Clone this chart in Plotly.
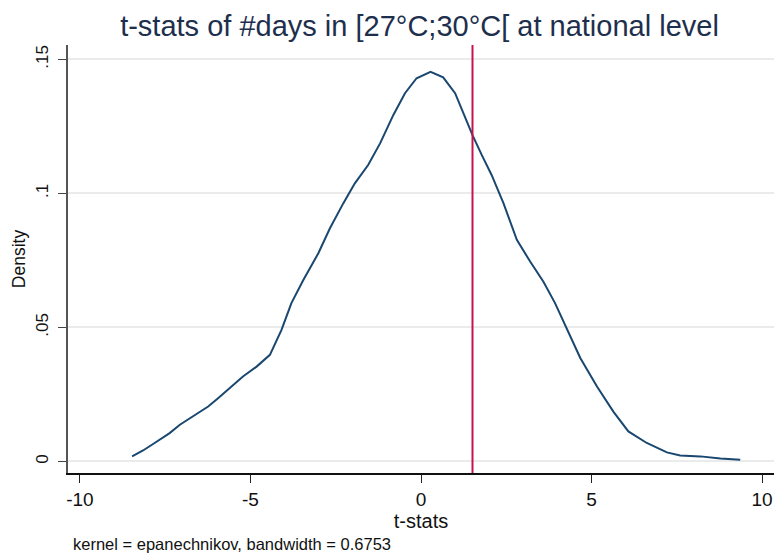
import plotly.graph_objects as go

# Kernel density estimate of the t-statistics (Epanechnikov kernel, bw = 0.6753)
t_stats = [-8.47, -8.15, -7.81, -7.37, -7.07, -6.63, -6.24, -5.95, -5.56, -5.22,
           -4.82, -4.43, -4.09, -3.80, -3.45, -3.01, -2.67, -2.28, -1.94, -1.55,
           -1.20, -0.81, -0.47, -0.13, 0.28, 0.65, 1.00, 1.24, 1.51, 1.78,
           2.07, 2.42, 2.81, 3.20, 3.59, 3.93, 4.28, 4.67, 5.16, 5.64,
           6.08, 6.62, 7.21, 7.60, 8.19, 8.78, 9.36]
density = [0.0019, 0.0041, 0.0069, 0.0106, 0.0137, 0.0174, 0.0205, 0.0236, 0.0280, 0.0317,
           0.0354, 0.0398, 0.0491, 0.0591, 0.0677, 0.0777, 0.0870, 0.0963, 0.1038, 0.1106,
           0.1187, 0.1293, 0.1374, 0.1430, 0.1454, 0.1433, 0.1374, 0.1299, 0.1218, 0.1144,
           0.1069, 0.0963, 0.0827, 0.0746, 0.0671, 0.0591, 0.0491, 0.0386, 0.0280, 0.0186,
           0.0112, 0.0069, 0.0034, 0.0022, 0.0019, 0.0011, 0.0006]

# Critical value marked by the vertical reference line
reference_t = 1.51

x_ticks = [-10, -5, 0, 5, 10]
x_tick_labels = ["-10", "-5", "0", "5", "10"]
y_ticks = [0, 0.05, 0.1, 0.15]
y_tick_labels = ["0", ".05", ".1", ".15"]

FONT = "Liberation Sans, Arial, sans-serif"
NAVY = "#1a476f"

fig = go.Figure()
fig.add_trace(go.Scatter(
    x=t_stats, y=density, mode="lines",
    line=dict(color=NAVY, width=2), showlegend=False,
))
fig.add_vline(x=reference_t, line=dict(color="#c8124c", width=2))

fig.update_layout(
    width=774, height=556,
    margin=dict(l=68, r=0, t=45, b=83),
    paper_bgcolor="white", plot_bgcolor="white",
    font=dict(family=FONT, color="#111111", size=17),
    title=dict(
        text="t-stats of #days in [27°C;30°C[ at national level",
        font=dict(family=FONT, size=29, color="#1e2f4d"),
        x=0.542, xref="container", xanchor="center",
        y=0.954, yref="container", yanchor="middle",
    ),
    xaxis=dict(
        range=[-10.35, 10.35],
        tickvals=x_ticks, ticktext=x_tick_labels,
        ticks="outside", ticklen=8, tickwidth=1.2, tickcolor="#222222",
        showline=True, linecolor="#111111", linewidth=1.5,
        showgrid=False, zeroline=False,
        tickfont=dict(size=19),
        title=dict(text="t-stats", font=dict(size=20), standoff=0),
    ),
    yaxis=dict(
        range=[-0.0043, 0.1554],
        tickvals=y_ticks, ticktext=y_tick_labels, tickangle=-90,
        ticks="outside", ticklen=8, tickwidth=1.2, tickcolor="#444444",
        showline=True, linecolor="#555555", linewidth=1.5,
        showgrid=True, gridcolor="#ebebeb", gridwidth=1.5, zeroline=False,
        tickfont=dict(size=17), ticklabelstandoff=3,
        title=dict(text="Density", font=dict(size=17.5), standoff=3),
    ),
    annotations=[dict(
        text="kernel = epanechnikov, bandwidth = 0.6753",
        xref="paper", yref="paper", x=0.004, y=-0.167,
        xanchor="left", yanchor="middle", showarrow=False,
        font=dict(family=FONT, size=16.5, color="#111111"),
    )],
)

fig.write_html("out.html")
